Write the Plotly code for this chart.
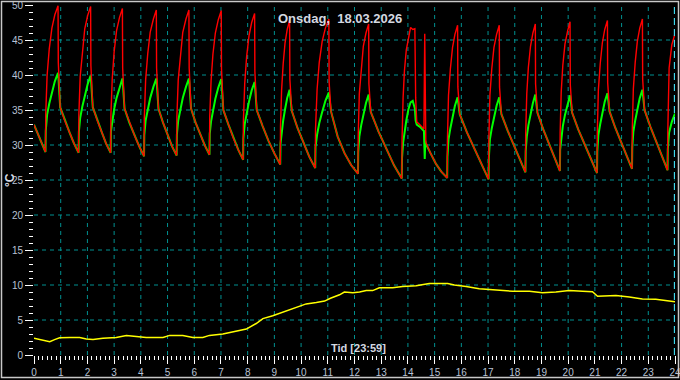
import plotly.graph_objects as go

# ---------------- data ----------------
tid = [
    0.00, 0.12, 0.25, 0.37,
    0.43, 0.44, 0.49, 0.57, 0.67, 0.78, 0.90, 0.91, 0.98, 1.15, 1.33, 1.50,
    1.67, 1.68, 1.73, 1.81, 1.90, 2.01, 2.12, 2.13, 2.20, 2.37, 2.54, 2.70,
    2.87, 2.88, 2.93, 3.00, 3.09, 3.20, 3.31, 3.32, 3.39, 3.57, 3.76, 3.94,
    4.12, 4.13, 4.18, 4.26, 4.35, 4.47, 4.58, 4.59, 4.66, 4.83, 5.00, 5.17,
    5.34, 5.35, 5.40, 5.48, 5.57, 5.69, 5.80, 5.81, 5.88, 6.05, 6.23, 6.40,
    6.57, 6.58, 6.63, 6.70, 6.79, 6.90, 7.01, 7.02, 7.09, 7.28, 7.46, 7.65,
    7.83, 7.84, 7.89, 7.96, 8.05, 8.15, 8.26, 8.27, 8.34, 8.56, 8.78, 9.00,
    9.22, 9.23, 9.27, 9.33, 9.40, 9.48, 9.57, 9.58, 9.65, 9.87, 10.09, 10.31,
    10.53, 10.54, 10.60, 10.68, 10.79, 10.91, 11.04, 11.05, 11.12, 11.37, 11.63, 11.88,
    12.13, 12.14, 12.18, 12.25, 12.33, 12.43, 12.53, 12.54, 12.61, 12.90, 13.19, 13.48,
    13.77, 13.78, 13.82, 13.87, 13.94, 14.02, 14.10, 14.18, 14.26, 14.29, 14.33, 14.45,
    14.60, 14.63, 14.65, 14.67, 14.85, 15.05, 15.25,
    15.47, 15.48, 15.52, 15.59, 15.67, 15.76, 15.86, 15.87, 15.94, 16.21, 16.48, 16.75,
    17.02, 17.03, 17.07, 17.14, 17.22, 17.32, 17.42, 17.43, 17.50, 17.73, 17.95, 18.18,
    18.40, 18.41, 18.45, 18.51, 18.59, 18.68, 18.77, 18.78, 18.85, 19.06, 19.27, 19.48,
    19.69, 19.70, 19.74, 19.80, 19.88, 19.98, 20.07, 20.08, 20.15, 20.38, 20.62, 20.85,
    21.08, 21.09, 21.13, 21.20, 21.28, 21.37, 21.47, 21.48, 21.55, 21.76, 21.97, 22.18,
    22.39, 22.40, 22.44, 22.51, 22.59, 22.68, 22.78, 22.79, 22.86, 23.08, 23.29, 23.51,
    23.72, 23.73, 23.78, 23.88, 24.00,
]

tur = [  # red
    32.9, 31.8, 30.6, 29.5,
    29.0, 34.5, 39.9, 43.7, 46.7, 48.6, 49.9, 41.8, 35.4, 33.5, 31.8, 30.2,
    28.9, 34.4, 39.8, 43.6, 46.6, 48.5, 49.8, 41.4, 35.4, 33.5, 31.8, 30.2,
    28.9, 34.4, 39.5, 43.3, 46.3, 48.2, 49.5, 41.0, 35.2, 33.2, 31.4, 29.8,
    28.4, 33.9, 39.3, 43.1, 46.1, 48.0, 49.3, 41.0, 35.2, 33.2, 31.4, 29.8,
    28.5, 34.0, 39.3, 43.1, 46.1, 48.0, 49.3, 41.0, 35.2, 33.2, 31.5, 29.9,
    28.6, 34.1, 39.2, 43.0, 46.0, 47.9, 49.2, 40.9, 35.0, 32.9, 31.0, 29.3,
    27.9, 33.4, 38.8, 42.6, 45.6, 47.5, 48.8, 40.5, 35.0, 32.7, 30.6, 28.8,
    27.2, 32.7, 37.8, 41.6, 44.6, 46.5, 47.8, 39.4, 34.9, 32.4, 30.3, 28.3,
    26.7, 32.2, 38.0, 41.8, 44.8, 46.7, 48.0, 39.0, 34.8, 31.2, 28.8, 27.1,
    25.9, 31.4, 37.3, 41.1, 44.1, 46.0, 47.3, 38.7, 34.7, 31.9, 29.4, 27.1,
    25.2, 30.7, 36.8, 40.6, 43.6, 45.5, 46.8, 46.5, 46.6, 36.8, 33.3, 32.9,
    32.3, 45.9, 31.6, 30.4, 28.8, 27.3, 26.2,
    25.3, 30.8, 37.1, 40.9, 43.9, 45.8, 47.1, 38.3, 34.4, 31.8, 29.6, 27.4,
    25.1, 30.6, 37.1, 40.9, 43.9, 45.8, 47.1, 38.3, 34.4, 32.1, 30.1, 28.2,
    26.1, 31.6, 37.3, 41.1, 44.1, 46.0, 47.3, 38.7, 34.6, 32.3, 30.3, 28.4,
    26.3, 31.8, 37.6, 41.4, 44.4, 46.3, 47.6, 38.6, 34.6, 32.2, 30.1, 28.2,
    26.0, 31.5, 37.8, 41.6, 44.6, 46.5, 47.8, 38.9, 34.8, 32.5, 30.5, 28.7,
    26.6, 32.1, 38.0, 41.8, 44.8, 46.7, 48.0, 39.4, 35.0, 32.6, 30.5, 28.6,
    26.4, 31.9, 41.0, 44.3, 45.9,
]

retur = [  # green
    32.9, 31.8, 30.6, 29.5,
    29.0, 32.0, 34.3, 35.9, 37.5, 39.1, 40.3, 40.0, 35.4, 33.5, 31.8, 30.2,
    28.9, 31.9, 33.9, 35.5, 37.1, 38.7, 39.9, 39.6, 35.4, 33.5, 31.8, 30.2,
    28.9, 31.9, 33.5, 35.1, 36.7, 38.3, 39.5, 39.2, 35.2, 33.2, 31.4, 29.8,
    28.4, 31.4, 33.5, 35.1, 36.7, 38.3, 39.5, 39.2, 35.2, 33.2, 31.4, 29.8,
    28.5, 31.5, 33.5, 35.1, 36.7, 38.3, 39.5, 39.2, 35.2, 33.2, 31.5, 29.9,
    28.6, 31.6, 33.4, 35.0, 36.6, 38.2, 39.4, 39.1, 35.0, 32.9, 31.0, 29.3,
    27.9, 30.9, 33.0, 34.6, 36.2, 37.8, 39.0, 38.7, 35.0, 32.7, 30.6, 28.8,
    27.2, 30.2, 31.9, 33.5, 35.1, 36.7, 37.9, 37.6, 34.9, 32.4, 30.3, 28.3,
    26.7, 29.7, 31.5, 33.1, 34.7, 36.3, 37.5, 37.2, 34.8, 31.2, 28.8, 27.1,
    25.9, 28.9, 31.2, 32.8, 34.4, 36.0, 37.2, 36.9, 34.7, 31.9, 29.4, 27.1,
    25.2, 28.2, 30.3, 31.9, 33.5, 35.1, 36.1, 36.3, 35.2, 33.5, 32.9, 32.6,
    32.0, 28.0, 30.6, 30.2, 28.8, 27.3, 26.2,
    25.3, 28.3, 30.8, 32.4, 34.0, 35.6, 36.8, 36.5, 34.4, 31.8, 29.6, 27.4,
    25.1, 28.1, 30.8, 32.4, 34.0, 35.6, 36.8, 36.5, 34.4, 32.1, 30.1, 28.2,
    26.1, 29.1, 31.2, 32.8, 34.4, 36.0, 37.2, 36.9, 34.6, 32.3, 30.3, 28.4,
    26.3, 29.3, 31.1, 32.7, 34.3, 35.9, 37.1, 36.8, 34.6, 32.2, 30.1, 28.2,
    26.0, 29.0, 31.4, 33.0, 34.6, 36.2, 37.4, 37.1, 34.8, 32.5, 30.5, 28.7,
    26.6, 29.6, 31.9, 33.5, 35.1, 36.7, 37.9, 37.6, 35.0, 32.6, 30.5, 28.6,
    26.4, 29.4, 31.8, 33.3, 34.5,
]

ute_tid = [
    0.00, 0.21, 0.40, 0.59, 0.77, 0.96, 1.34, 1.71, 1.96, 2.21, 2.58, 3.08,
    3.46, 3.83, 4.20, 4.83, 5.08, 5.57, 5.95, 6.32, 6.57, 7.07, 7.57, 7.95,
    8.32, 8.57, 8.94, 9.32, 9.82, 10.19, 10.57, 10.88, 11.10, 11.44, 11.62, 11.94,
    12.19, 12.44, 12.68, 12.93, 13.43, 13.80, 14.31, 14.80, 15.18, 15.49, 15.74, 16.18,
    16.67, 17.17, 17.92, 18.55, 19.04, 19.54, 20.04, 20.54, 20.91, 21.10, 21.41, 21.79,
    22.29, 22.78, 23.28, 23.66, 23.91, 24.00,
]
ute = [
    2.4, 2.2, 2.1, 1.9, 2.2, 2.45, 2.5, 2.5, 2.3, 2.2, 2.4, 2.5,
    2.8, 2.7, 2.5, 2.5, 2.8, 2.8, 2.5, 2.5, 2.8, 3.0, 3.35, 3.7,
    4.5, 5.2, 5.6, 6.1, 6.7, 7.3, 7.5, 7.7, 8.1, 8.6, 9.0, 8.9,
    9.0, 9.2, 9.2, 9.6, 9.6, 9.8, 9.9, 10.2, 10.2, 10.2, 10.0, 9.8,
    9.45, 9.3, 9.1, 9.1, 8.9, 9.0, 9.2, 9.1, 9.05, 8.4, 8.4, 8.5,
    8.3, 8.0, 7.95, 7.8, 7.6, 7.6,
]

x_ticks = list(range(0, 25))
y_ticks = list(range(0, 55, 5))
title_text = "Onsdag,  18.03.2026"
x_title = "Tid [23:59]"
y_title = "°C"

# ---------------- figure ----------------
W, H = 680, 380
ML, MR, MT, MB = 34, 5, 5, 25
PW, PH = W - ML - MR, H - MT - MB

def px_x(p):
    return (p - ML) / PW

def px_y(p):
    return (H - MB - p) / PH

fig = go.Figure()
fig.add_trace(go.Scatter(x=ute_tid, y=ute, mode="lines",
                         line=dict(color="#ffff00", width=1.5), hoverinfo="skip"))
fig.add_trace(go.Scatter(x=tid, y=retur, mode="lines",
                         line=dict(color="#00ff00", width=2), hoverinfo="skip"))
fig.add_trace(go.Scatter(x=tid, y=tur, mode="lines",
                         line=dict(color="#ff0000", width=1.4), hoverinfo="skip"))

grid_col = "#009090"
shapes = []
for v in range(1, 24):
    shapes.append(dict(type="line", xref="x", yref="y", x0=v, x1=v, y0=0, y1=50,
                       line=dict(color=grid_col, width=1, dash="4px,4px"), layer="below"))
for v in range(5, 50, 5):
    shapes.append(dict(type="line", xref="x", yref="y", x0=0, x1=24, y0=v, y1=v,
                       line=dict(color=grid_col, width=1, dash="4px,4px"), layer="below"))
# cursor line at the end of the day
shapes.append(dict(type="line", xref="x", yref="y", x0=23.985, x1=23.985, y0=0, y1=50,
                   line=dict(color="#40d8ec", width=1.5, dash="7px,4px")))
# outer frame
shapes.append(dict(type="rect", xref="paper", yref="paper",
                   x0=px_x(1.5), x1=px_x(678.5), y0=px_y(377.5), y1=px_y(1.5),
                   line=dict(color="#c8c8c8", width=1.5)))

tick_font = dict(family="Liberation Sans, Arial, sans-serif", size=10, color="#b8c2d4")
fig.update_layout(
    width=W, height=H,
    margin=dict(l=ML, r=MR, t=MT, b=MB, pad=0, autoexpand=False),
    paper_bgcolor="#000000", plot_bgcolor="#000000",
    showlegend=False,
    shapes=shapes,
    xaxis=dict(range=[0, 24], tickvals=x_ticks, ticktext=[str(v) for v in x_ticks],
               showgrid=False, zeroline=False, showline=False, automargin=False,
               ticklabeloverflow="allow",
               ticks="outside", ticklen=8, tickwidth=1, tickcolor="#ffffff",
               tickfont=tick_font,
               minor=dict(dtick=1/6, ticks="outside", ticklen=4, tickwidth=1,
                          tickcolor="#ffffff", showgrid=False)),
    yaxis=dict(range=[0, 50], tickvals=y_ticks, ticktext=[str(v) for v in y_ticks],
               showgrid=False, zeroline=False, showline=False, automargin=False,
               ticklabeloverflow="allow",
               ticks="outside", ticklen=8, tickwidth=1, tickcolor="#ffffff",
               tickfont=tick_font,
               minor=dict(dtick=1, ticks="outside", ticklen=4, tickwidth=1,
                          tickcolor="#ffffff", showgrid=False)),
    annotations=[
        dict(text=title_text, xref="paper", yref="paper", x=px_x(340), y=px_y(18.5),
             xanchor="center", yanchor="middle", showarrow=False,
             font=dict(family="Liberation Sans, Arial, sans-serif", size=13,
                       color="#d4d8e0", weight="bold")),
        dict(text=x_title, xref="paper", yref="paper", x=px_x(358.5), y=px_y(348),
             xanchor="center", yanchor="middle", showarrow=False,
             font=dict(family="Liberation Sans, Arial, sans-serif", size=11,
                       color="#d4d8e0", weight="bold")),
        dict(text=y_title, xref="paper", yref="paper", x=px_x(10), y=0.5,
             xanchor="center", yanchor="middle", showarrow=False, textangle=-90,
             font=dict(family="Liberation Sans, Arial, sans-serif", size=12,
                       color="#d4d8e0", weight="bold")),
    ],
)

fig.write_html(
    "out.html",
    config={"displayModeBar": False},
    post_script="document.body.style.margin='0px';document.body.style.background='#000';",
)
